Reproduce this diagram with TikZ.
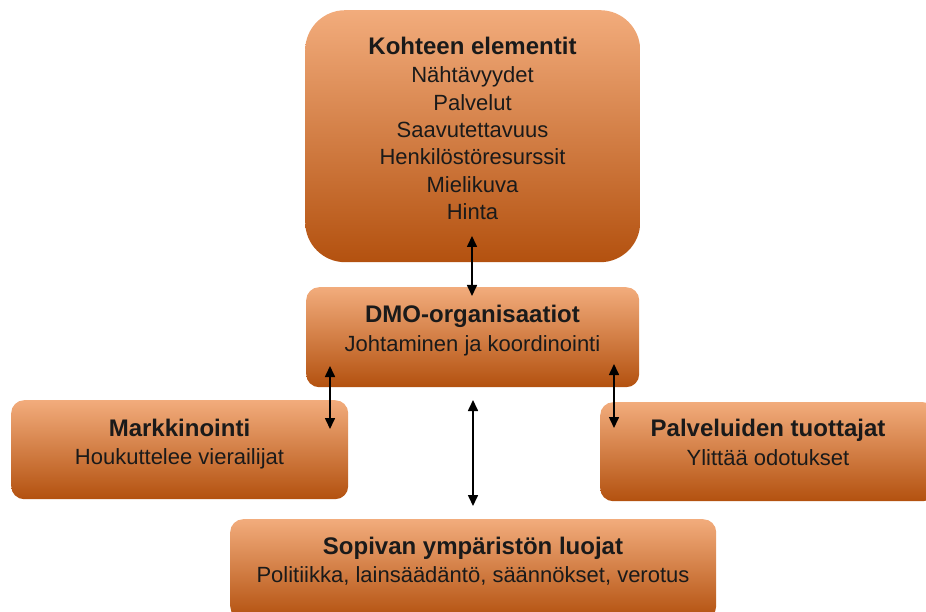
\documentclass[tikz,border=0pt]{standalone}
\usepackage{fontspec}
\setmainfont{Liberation Sans}
\usetikzlibrary{arrows.meta}
\definecolor{otop}{HTML}{F2AC7C}
\definecolor{omid}{HTML}{EC823E}
\definecolor{obot}{HTML}{B3510F}
\definecolor{ink}{HTML}{1A1A1A}
\begin{document}
\begin{tikzpicture}[x=1pt,y=-1pt,
  box/.style={rounded corners=13pt, top color=otop, middle color=omid, bottom color=obot, draw=none, inner sep=0pt, anchor=north west},
  ttl/.style={font=\bfseries\fontsize{24}{28}\selectfont, text=ink, inner sep=0pt, anchor=base},
  txt/.style={align=center, font=\fontsize{22}{27.3}\selectfont, text=ink, inner sep=0pt, anchor=base},
  link/.style={line width=1.6pt, {Triangle[length=11pt,width=10pt]}-{Triangle[length=11pt,width=10pt]}}]
\useasboundingbox (0,0) rectangle (926,612);
% boxes
\node[box, rounded corners=40pt, minimum width=335pt, minimum height=252pt] (top) at (305,10) {};
\node[box, minimum width=333pt, minimum height=100pt] (dmo) at (306,287) {};
\node[box, minimum width=337pt, minimum height=99pt] (mark) at (11,400) {};
\node[box, minimum width=336pt, minimum height=99pt] (palv) at (600,402) {};
\node[box, minimum width=486pt, minimum height=100pt] (sop) at (230,519) {};
% texts (positions are baselines)
\node[ttl] (toptl) at (472.5,55) {Kohteen elementit};
\node[txt] (t1) at (472.5,83) {Nähtävyydet};
\node[txt] (t2) at (472.5,110.3) {Palvelut};
\node[txt] (t3) at (472.5,137.6) {Saavutettavuus};
\node[txt] (t4) at (472.5,164.9) {Henkilöstöresurssit};
\node[txt] (t5) at (472.5,192.2) {Mielikuva};
\node[txt] (t6) at (472.5,219.5) {Hinta};
\node[ttl] (dmotl) at (472.5,323) {DMO-organisaatiot};
\node[txt] (dmotx) at (472.5,351) {Johtaminen ja koordinointi};
\node[ttl] (marktl) at (179.5,436) {Markkinointi};
\node[txt] (marktx) at (179.5,464) {Houkuttelee vierailijat};
\node[ttl] (palvtl) at (768,436) {Palveluiden tuottajat};
\node[txt] (palvtx) at (768,465) {Ylittää odotukset};
\node[ttl] (soptl) at (473,554) {Sopivan ympäristön luojat};
\node[txt] (soptx) at (473,582) {Politiikka, lainsäädäntö, säännökset, verotus};
% connector ends
\coordinate (a1) at (472,236);
\coordinate (a2) at (472,296);
\coordinate (b1) at (330,366);
\coordinate (b2) at (330,429);
\coordinate (c1) at (473,400);
\coordinate (c2) at (473,506);
\coordinate (d1) at (614,364);
\coordinate (d2) at (614,428);
\draw[link] (a1) -- (a2);
\draw[link] (b1) -- (b2);
\draw[link] (c1) -- (c2);
\draw[link] (d1) -- (d2);
\end{tikzpicture}
\end{document}
